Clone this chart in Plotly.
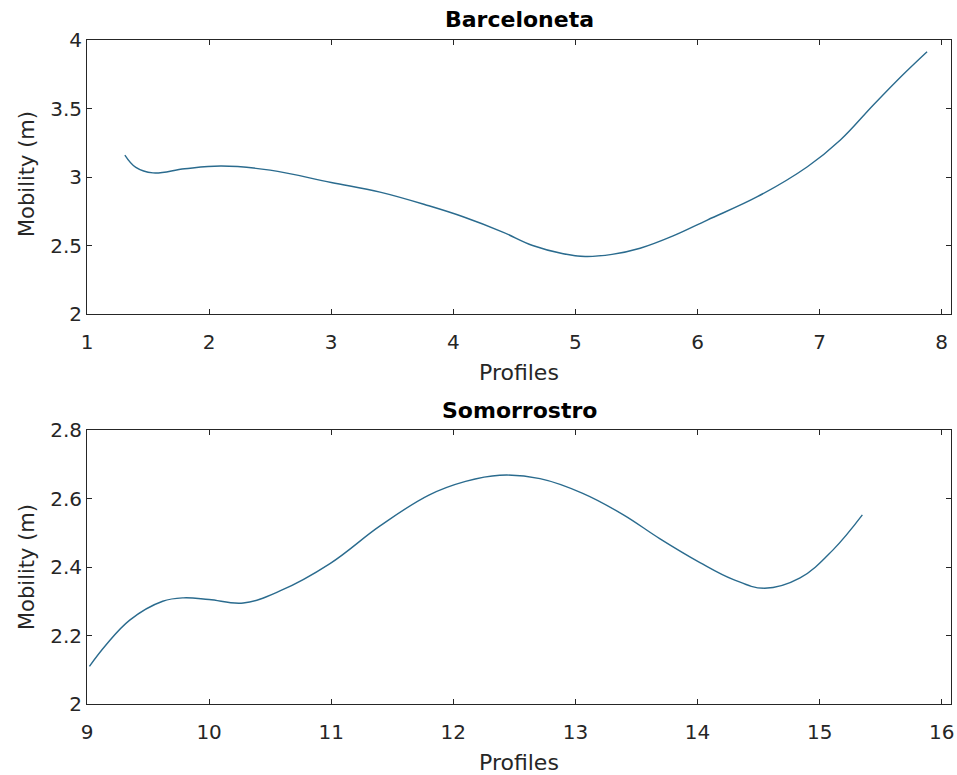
import plotly.graph_objects as go
from plotly.subplots import make_subplots

# Barceloneta profiles vs mobility
barc_x = [1.31, 1.40, 1.54, 1.80, 2.10, 2.50, 3.00, 3.40, 3.80, 4.08, 4.40, 4.65, 4.90,
          5.08, 5.30, 5.53, 5.80, 6.08, 6.49, 6.90, 7.17, 7.44, 7.68, 7.88]
barc_y = [3.16, 3.07, 3.03, 3.06, 3.08, 3.05, 2.96, 2.89, 2.79, 2.71, 2.60, 2.50, 2.44,
          2.42, 2.435, 2.48, 2.57, 2.686, 2.856, 3.075, 3.27, 3.526, 3.745, 3.915]

# Somorrostro profiles vs mobility
somo_x = [9.02, 9.15, 9.35, 9.62, 9.79, 10.00, 10.28, 10.58, 10.99, 11.40, 11.80, 12.10,
          12.38, 12.71, 13.06, 13.39, 13.69, 14.02, 14.29, 14.55, 14.84, 15.11, 15.35]
somo_y = [2.11, 2.17, 2.245, 2.30, 2.31, 2.305, 2.295, 2.33, 2.41, 2.52, 2.61, 2.65,
          2.668, 2.658, 2.615, 2.553, 2.483, 2.413, 2.364, 2.338, 2.368, 2.45, 2.552]

top_xticks = [1, 2, 3, 4, 5, 6, 7, 8]
top_yticks = [2, 2.5, 3, 3.5, 4]
bot_xticks = [9, 10, 11, 12, 13, 14, 15, 16]
bot_yticks = [2, 2.2, 2.4, 2.6, 2.8]

titles = ["Barceloneta", "Somorrostro"]
xlabel = "Profiles"
ylabel = "Mobility (m)"

W, H = 957, 775
FONT = "DejaVu Sans"
AX = "#262626"
LINE = "#2a6b8e"

fig = make_subplots(rows=2, cols=1)
fig.add_trace(go.Scatter(x=barc_x, y=barc_y, mode="lines",
                         line=dict(color=LINE, width=1.4, shape="spline", smoothing=1.1)),
              row=1, col=1)
fig.add_trace(go.Scatter(x=somo_x, y=somo_y, mode="lines",
                         line=dict(color=LINE, width=1.4, shape="spline", smoothing=1.1)),
              row=2, col=1)

xd = [87 / W, 951 / W]
common = dict(showgrid=False, zeroline=False, showline=True, linecolor=AX, linewidth=1,
              mirror="ticks", ticks="inside", ticklen=5, tickcolor=AX, tickwidth=1,
              automargin=False,
              tickfont=dict(family=FONT, size=20, color=AX))
fig.update_xaxes(domain=xd, **common)
fig.update_yaxes(**common)
fig.update_xaxes(range=[1, 8.076], tickvals=top_xticks, ticklabelstandoff=10, row=1, col=1)
fig.update_xaxes(range=[9, 16.076], tickvals=bot_xticks, ticklabelstandoff=10, row=2, col=1)
fig.update_yaxes(range=[2, 4], tickvals=top_yticks, domain=[1 - 314 / H, 1 - 40 / H], row=1, col=1)
fig.update_yaxes(range=[2, 2.8], tickvals=bot_yticks, domain=[1 - 704 / H, 1 - 430 / H], row=2, col=1)

cx = (87 + 951) / 2 / W
ann = []
for t, yc in zip(titles, [20, 411]):
    ann.append(dict(text="<b>%s</b>" % t, x=cx, y=1 - yc / H, xref="paper", yref="paper",
                    showarrow=False, xanchor="center", yanchor="middle",
                    font=dict(family=FONT, size=22, color="#000000")))
for yc in [372, 762]:
    ann.append(dict(text=xlabel, x=cx, y=1 - yc / H, xref="paper", yref="paper",
                    showarrow=False, xanchor="center", yanchor="middle",
                    font=dict(family=FONT, size=22, color=AX)))
for yc in [174, 567]:
    ann.append(dict(text=ylabel, x=27 / W, y=1 - yc / H, xref="paper", yref="paper",
                    showarrow=False, xanchor="center", yanchor="middle", textangle=-90,
                    font=dict(family=FONT, size=21, color=AX)))

fig.update_layout(width=W, height=H, margin=dict(l=0, r=0, t=0, b=0),
                  paper_bgcolor="white", plot_bgcolor="white", showlegend=False,
                  annotations=ann)

fig.write_html("out.html")
